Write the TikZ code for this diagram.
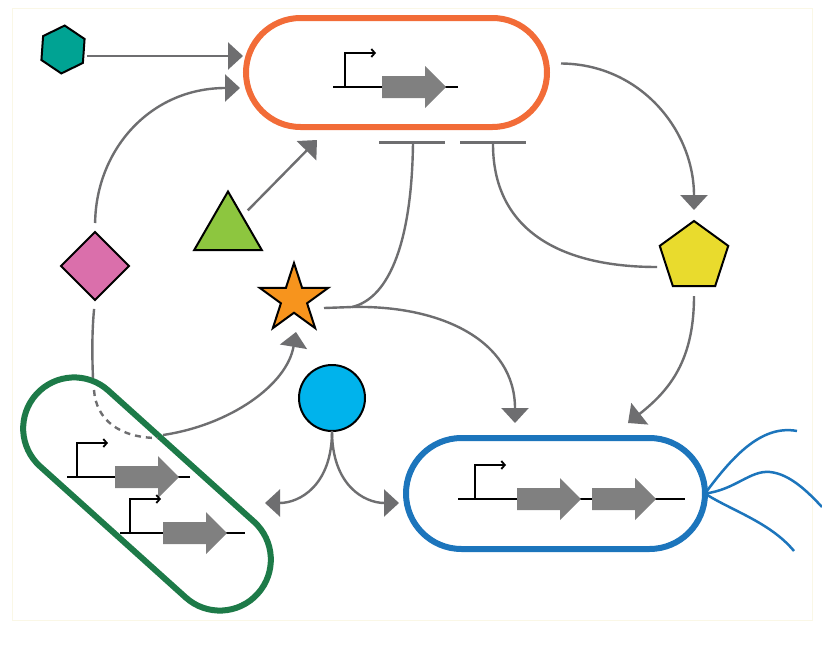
\documentclass[tikz,border=0pt]{standalone}
\usetikzlibrary{arrows.meta,shapes.geometric,shapes.misc}
\definecolor{cOrange}{HTML}{F26C38}
\definecolor{cGreen}{HTML}{1D7A48}
\definecolor{cBlue}{HTML}{1C75BC}
\definecolor{cLink}{HTML}{6E6E70}
\definecolor{cCds}{HTML}{808080}
\definecolor{cTeal}{HTML}{00A393}
\definecolor{cPink}{HTML}{DA6FAB}
\definecolor{cLime}{HTML}{8DC63F}
\definecolor{cStar}{HTML}{F7941D}
\definecolor{cYellow}{HTML}{E9DB2D}
\definecolor{cCyan}{HTML}{00B3EC}
\definecolor{cFaint}{HTML}{FAF7E6}
\begin{document}
\begin{tikzpicture}[x=1pt,y=-1pt,
  link/.style={draw=cLink, line width=2.4pt},
  arr/.style={link, -{Triangle[length=15pt,width=27pt]}},
  inhib/.style={draw=cLink, line width=3pt},
  shp/.style={draw=black, line width=2pt, inner sep=0pt, outer sep=0pt},
  cell/.style={rounded rectangle, line width=6pt, inner sep=0pt, outer sep=0pt},
  dna/.style={draw=black, line width=2pt},
  flag/.style={draw=cBlue, line width=2.5pt},
  cds/.pic={\fill[cCds] (0,-11) -- (43,-11) -- (43,-21) -- (64,0) -- (43,21) -- (43,11) -- (0,11) -- cycle;},
  prom/.pic={\draw[dna, line width=1.8pt, -{Straight Barb[length=3.5pt,width=8pt]}] (0,0) -- (0,-34) -- (31,-34);},
]
% background and frame
\fill[white] (0,0) rectangle (822,648);
\path[use as bounding box] (0,0) rectangle (822,648);
\draw[cFaint, line width=1pt] (12,8) rectangle (812,620);

% cells
\node[cell, draw=cOrange, minimum width=301pt, minimum height=109pt] (orange) at (396.5,72.5) {};
\node[cell, draw=cBlue, minimum width=299pt, minimum height=111pt] (blue) at (555.5,493.5) {};
\node[cell, draw=cGreen, rotate=-42, minimum width=298pt, minimum height=102pt] (green) at (147,494) {};

% genes
\draw[dna] (333,87) -- (458,87);
\pic at (345,87) {prom};
\pic at (382,87) {cds};

\draw[dna] (67,477) -- (190,477);
\pic at (77,477) {prom};
\pic at (115,477) {cds};
\draw[dna] (120,533) -- (245,533);
\pic at (130,533) {prom};
\pic at (163,533) {cds};

\draw[dna] (458,499) -- (685,499);
\pic at (475,499) {prom};
\pic at (517,499) {cds};
\pic at (592,499) {cds};

% flagella
\draw[flag] (blue.east) .. controls (730,460) and (760,424) .. (797,431);
\draw[flag] (blue.east) .. controls (735,490) and (750,470) .. (770,472) .. controls (790,474) and (808,492) .. (822,507);
\draw[flag] (blue.east) .. controls (730,510) and (770,522) .. (794,551);

% signal molecules
\node[shp, regular polygon, regular polygon sides=6, shape border rotate=26, minimum size=48pt, fill=cTeal] (hex) at (63,49.5) {};
\node[shp, diamond, minimum width=68pt, minimum height=68pt, fill=cPink] (dia) at (95,266) {};
\node[shp, regular polygon, regular polygon sides=3, minimum size=78pt, fill=cLime] (tri) at (228,230.5) {};
\node[shp, star, star points=5, star point ratio=2.618, minimum size=72pt, fill=cStar] (star) at (294,299) {};
\node[shp, regular polygon, regular polygon sides=5, minimum size=72pt, fill=cYellow] (pent) at (694,257) {};
\node[shp, circle, minimum size=66pt, fill=cCyan] (circ) at (332,398) {};

% connector end points
\coordinate (oA) at (243,56);
\coordinate (oB) at (240,88);
\coordinate (oC) at (317,140);
\coordinate (barL) at (413,142);
\coordinate (barR) at (493,142);
\coordinate (pIn) at (694,210);
\coordinate (sj) at (352,307);
\coordinate (bIn1) at (515,423);
\coordinate (bIn2) at (628,423);
\coordinate (bIn3) at (399,503);
\coordinate (gIn) at (265,503);
\coordinate (sIn) at (296,332);
\coordinate (gTop) at (93,378);
\coordinate (gDash) at (94,390);
\coordinate (gOut) at (158,438);

% connectors
\draw[arr, shorten <=3pt] (oA -| hex.east) -- (oA);
\draw[arr, shorten <=9pt] (dia.north) .. controls (96,150) and (150,88) .. (oB);
\draw[link, shorten <=9pt] (dia.south) .. controls (92,330) and (92,355) .. (gTop);
\draw[link, dash pattern=on 6pt off 5pt] (gDash) .. controls (96,420) and (120,438) .. (gOut);
\draw[arr] ([shift={(5,-3)}]gOut) .. controls (230,425) and (287,385) .. (sIn);
\draw[arr, shorten <=8pt] (tri) -- (oC);
\draw[link] ([shift={(30,9)}]star.center) -- (sj) .. controls (390,298) and (412,240) .. (barL);
\draw[arr] (sj) .. controls (440,305) and (515,340) .. (bIn1);
\draw[inhib] ([xshift=-34pt]barL) -- ([xshift=32pt]barL);
\draw[inhib] ([xshift=-33pt]barR) -- ([xshift=33pt]barR);
\draw[link] (barR) .. controls (492,230) and (560,267) .. ([shift={(-37,10)}]pent.center);
\draw[arr] ([shift={(14,-9)}]orange.east) .. controls (640,64) and (694,130) .. (pIn);
\draw[arr, shorten <=10pt] (pent.south) .. controls (694,360) and (670,390) .. (bIn2);
\draw[arr] (circ.south) .. controls (332,485) and (300,503) .. (gIn);
\draw[arr] (circ.south) .. controls (332,485) and (364,503) .. (bIn3);
\end{tikzpicture}
\end{document}
